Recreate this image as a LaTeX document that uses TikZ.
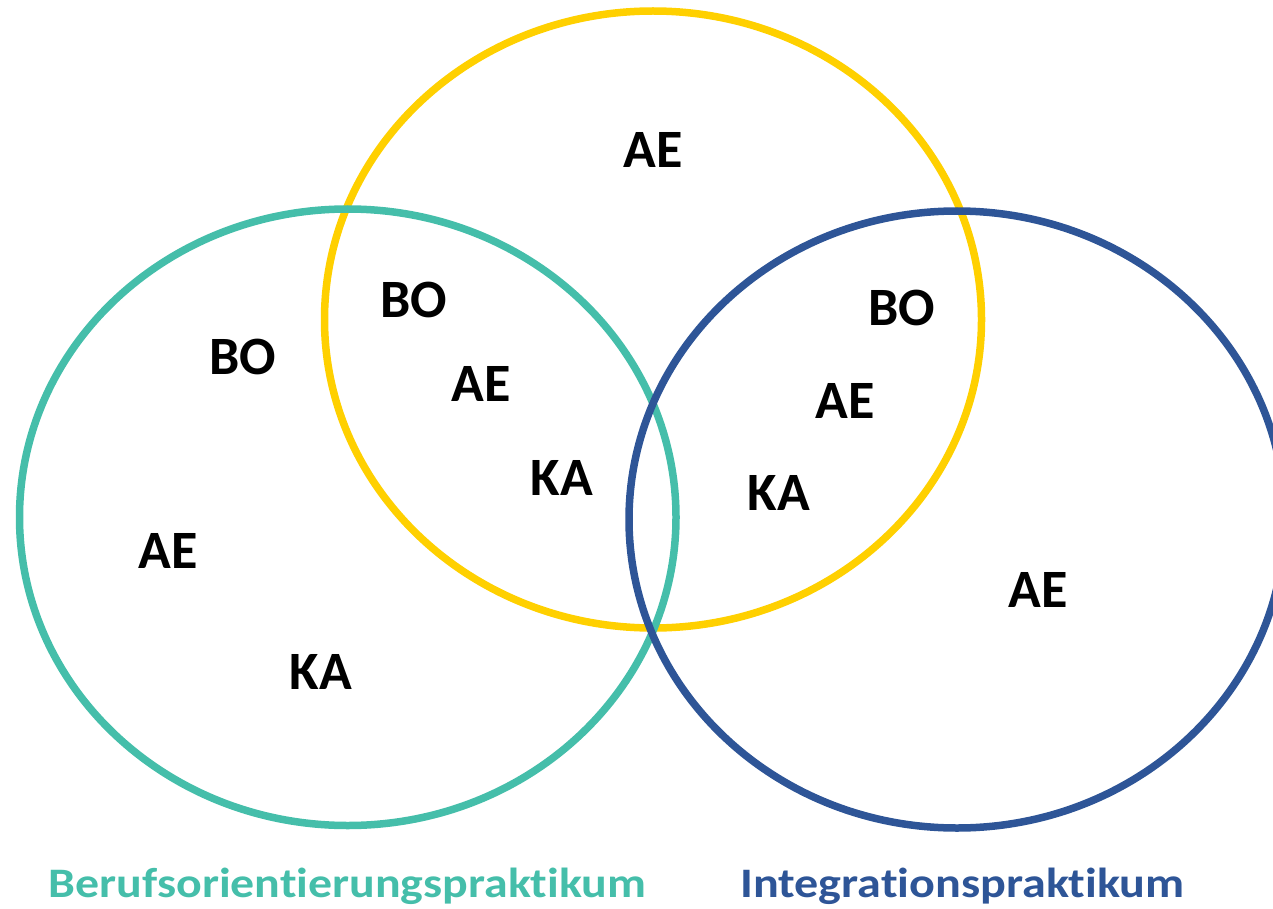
\documentclass[tikz,border=0pt]{standalone}
\usepackage{fontspec}
\setmainfont{Carlito}[Ligatures={NoCommon}]
\definecolor{tealc}{RGB}{69,190,170}
\definecolor{bluec}{RGB}{46,85,151}
\definecolor{yellowc}{RGB}{255,208,0}
\begin{document}
\begin{tikzpicture}[x=1pt,y=-1pt,
  ring/.style={line width=7.5pt},
  lbl/.style={inner sep=0pt, font=\fontsize{54}{54}\selectfont\bfseries, text=black},
  title/.style={inner sep=0pt, anchor=base, font=\fontsize{42}{42}\selectfont\bfseries}]
\useasboundingbox (0,0) rectangle (1273,909);
\begin{scope}
\clip (0,0) rectangle (1273,909);
\coordinate (cy) at (653,319.5);
\coordinate (ct) at (347.75,517.25);
\coordinate (cb) at (957,519.5);
\draw[ring, yellowc] (cy) ellipse [x radius=328.5, y radius=308.5];
\draw[ring, tealc] (ct) ellipse [x radius=328.25, y radius=308.25];
\draw[ring, bluec] (cb) ellipse [x radius=328, y radius=308.5];
\end{scope}
\node[lbl] (ae1) at (653,150) {AE};
\node[lbl] (bo1) at (243,357) {BO};
\node[lbl] (ae2) at (168,551) {AE};
\node[lbl] (ka1) at (321,672) {KA};
\node[lbl] (bo2) at (414,300) {BO};
\node[lbl] (ae3) at (481,384) {AE};
\node[lbl] (ka2) at (562,478) {KA};
\node[lbl] (bo3) at (902,308) {BO};
\node[lbl] (ae4) at (845,401) {AE};
\node[lbl] (ka3) at (779,493) {KA};
\node[lbl] (ae5) at (1038,590) {AE};
\node[title, text=tealc] (t1) at (347.5,897) {\scalebox{1.14}[1]{Berufsorientierungspraktikum}};
\node[title, text=bluec] (t2) at (962.5,897) {\scalebox{1.145}[1]{Integrationspraktikum}};
\end{tikzpicture}
\end{document}
